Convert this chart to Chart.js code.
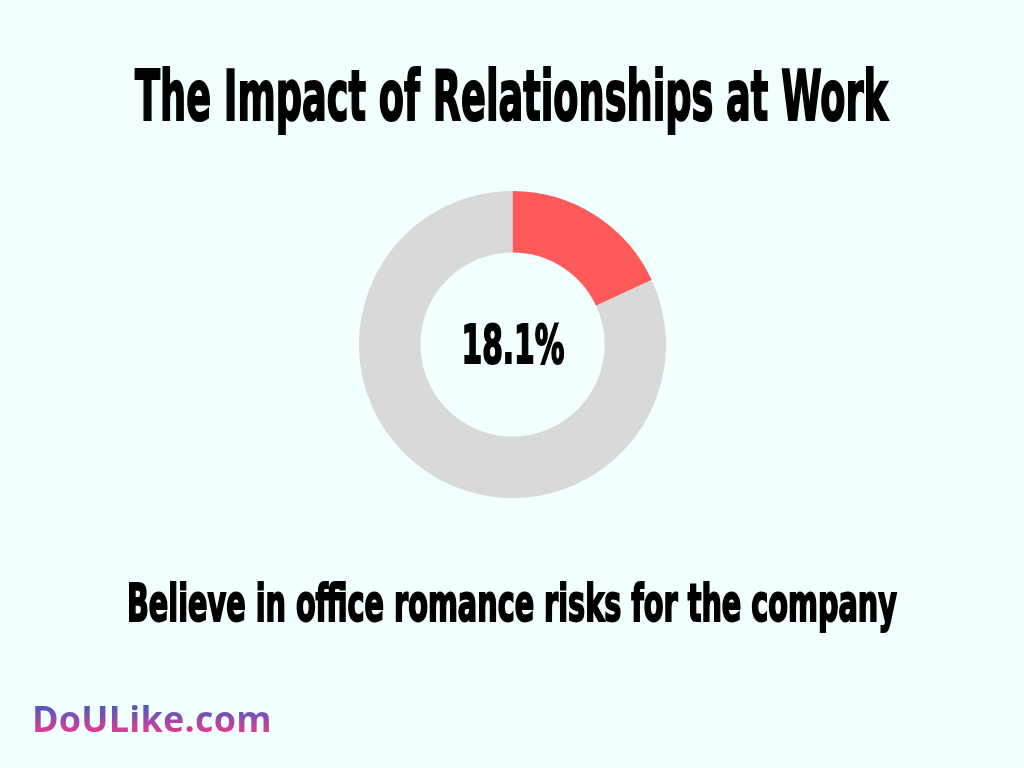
<!DOCTYPE html>
<html>
<head>
<meta charset="utf-8">
<script src="https://cdn.jsdelivr.net/npm/chart.js@4.4.0/dist/chart.umd.min.js"></script>
<style>
    html, body {
        margin: 0;
        padding: 0;
        width: 1024px;
        height: 768px;
        background: #F1FFFE;
        overflow: hidden;
    }
    .txt {
        position: absolute;
        white-space: nowrap;
        line-height: 1;
        font-family: "Liberation Sans Narrow", "DejaVu Sans Condensed", sans-serif;
        font-weight: bold;
        color: #000;
        -webkit-text-stroke: 2px #000;
        transform-origin: left top;
    }
    #logo {
        position: absolute;
        left: 32px;
        top: 701px;
        font-family: "Open Sans", sans-serif;
        font-weight: bold;
        font-size: 36px;
        line-height: 1;
        letter-spacing: 0.2px;
        background: linear-gradient(to bottom, #3F5EC2 10%, #E03B95 85%);
        -webkit-background-clip: text;
        background-clip: text;
        color: transparent;
    }
    #chartBox {
        position: absolute;
        left: 359px;
        top: 191px;
        width: 307px;
        height: 307px;
    }
</style>
</head>
<body>
<div id="title" class="txt">The Impact of Relationships at Work</div>
<div id="chartBox"><canvas id="donut" width="307" height="307"></canvas></div>
<div id="subtitle" class="txt">Believe in office romance risks for the company</div>
<div id="logo">DoULike.com</div>

<script>
// Data
const labels = ['Believe in risks', 'Other'];
const values = [18.1, 81.9];
const colors = ['#FF5A5A', '#D9D9D9'];
const centerLabel = '18.1%';

// Fit a condensed heading to a box: left, cap top, width, cap height
function fitText(id, left, capTop, width, capH) {
    const el = document.getElementById(id);
    const fs = capH / 0.729;
    el.style.fontSize = fs + 'px';
    el.style.left = left + 'px';
    el.style.top = (capTop - 0.1175 * fs) + 'px';
    const w = el.offsetWidth;
    el.style.transform = 'scaleX(' + (width / w) + ')';
}

fitText('title', 135, 70, 753, 50);
fitText('subtitle', 127, 585, 770, 37);

// Center label plugin
const centerText = {
    id: 'centerText',
    afterDraw(chart) {
        const ctx = chart.ctx;
        const meta = chart.getDatasetMeta(0).data[0];
        const cx = meta.x, cy = meta.y;
        const capH = 39;
        const fs = capH / 0.729;
        ctx.save();
        ctx.font = 'bold ' + fs + 'px "Liberation Sans Narrow", "DejaVu Sans Condensed", sans-serif';
        ctx.fillStyle = '#000';
        ctx.strokeStyle = '#000';
        ctx.lineWidth = 2;
        ctx.textAlign = 'center';
        ctx.textBaseline = 'alphabetic';
        const w = ctx.measureText(centerLabel).width;
        const sx = 103 / w;
        ctx.translate(cx + 0.5, cy + capH / 2 - 1);
        ctx.scale(sx, 1);
        ctx.fillText(centerLabel, 0, 0);
        ctx.strokeText(centerLabel, 0, 0);
        ctx.restore();
    }
};

const donutCtx = document.getElementById('donut').getContext('2d');
new Chart(donutCtx, {
    type: 'doughnut',
    data: {
        labels: labels,
        datasets: [{
            data: values,
            backgroundColor: colors,
            borderWidth: 0,
            hoverOffset: 0
        }]
    },
    options: {
        responsive: false,
        animation: false,
        cutout: '60%',
        layout: { padding: 0 },
        plugins: {
            legend: { display: false },
            tooltip: { enabled: false }
        }
    },
    plugins: [centerText]
});
</script>
</body>
</html>
